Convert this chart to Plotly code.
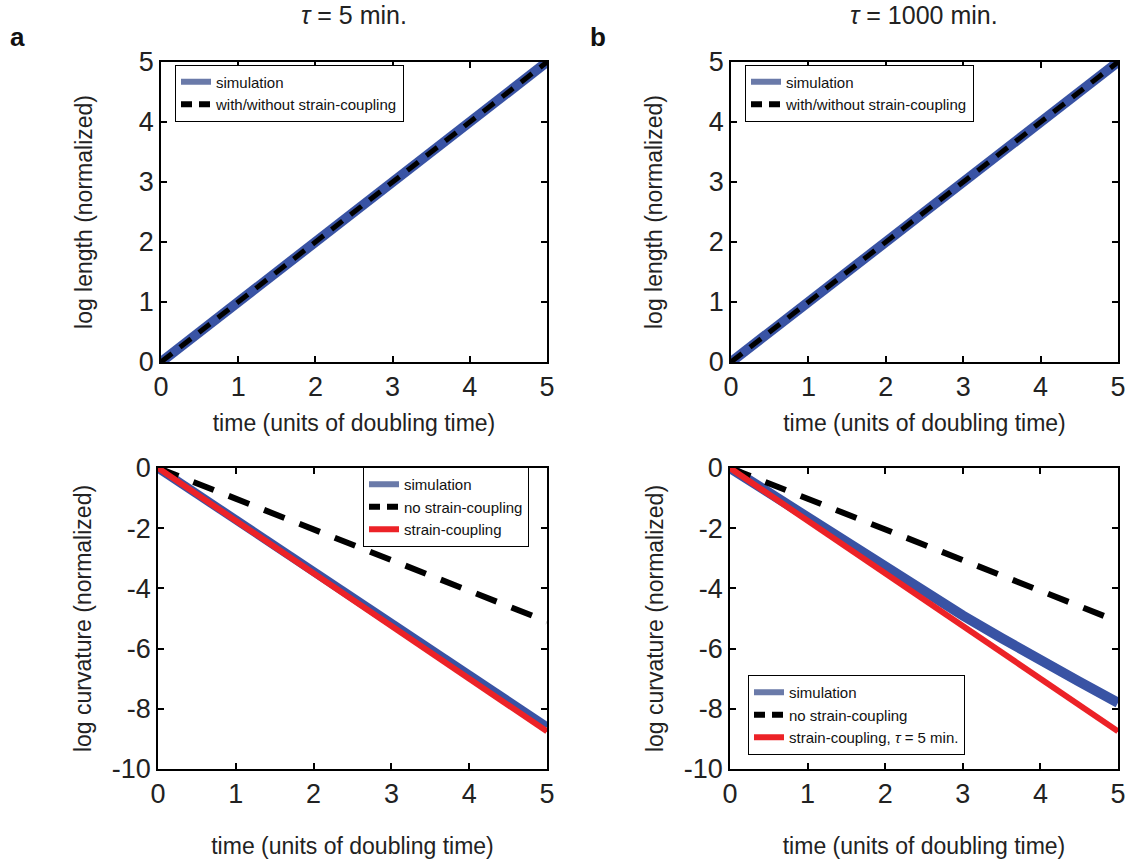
import plotly.graph_objects as go
from plotly.subplots import make_subplots

# ---------------- data ----------------
time = [0, 1, 2, 3, 4, 5]
time_fine = [0, 0.5, 1, 1.5, 2, 2.5, 3, 3.5, 4, 4.5, 5]

# top panels: log length
length_sim_a = [0, 1, 2, 3, 4, 5]
length_theory_a = [0, 1, 2, 3, 4, 5]
length_sim_b = [0, 1, 2, 3, 4, 5]
length_theory_b = [0, 1, 2, 3, 4, 5]

# bottom-left: log curvature, tau = 5 min
curv_sim_a = [0, -1.72, -3.44, -5.16, -6.88, -8.6]
curv_nocoupling_a = [0, -1.02, -2.04, -3.06, -4.08, -5.1]
curv_coupling_a = [0, -1.75, -3.5, -5.25, -7.0, -8.75]

# bottom-right: log curvature, tau = 1000 min
curv_sim_b = [0, -0.83, -1.63, -2.45, -3.3, -4.1, -4.9, -5.65, -6.4, -7.1, -7.8]
curv_nocoupling_b = [0, -1.02, -2.04, -3.06, -4.08, -5.1]
curv_coupling_b = [0, -1.75, -3.5, -5.25, -7.0, -8.75]

x_ticks = [0, 1, 2, 3, 4, 5]
y_ticks_top = [0, 1, 2, 3, 4, 5]
y_ticks_bottom = [0, -2, -4, -6, -8, -10]
y_ticklabels_bottom = ["0", "-2", "-4", "-6", "-8", "-10"]

panel_titles = ["<i>τ</i> = 5 min.", "<i>τ</i> = 1000 min."]
panel_letters = ["a", "b"]

# ---------------- style ----------------
BLUE = "#3953a4"
BLUE_LEG = "#6a7aa9"
RED = "#ec2227"
BLACK = "#000000"
FONT = "Liberation Sans, Arial, Helvetica, sans-serif"
W, H = 1132, 867

fig = make_subplots(rows=2, cols=2)

def add(x, y, row, col, color, width, dash=None):
    fig.add_trace(go.Scatter(x=x, y=y, mode="lines", showlegend=False,
                             line=dict(color=color, width=width, dash=dash),
                             hoverinfo="skip"), row=row, col=col)

def leg(name, color, width, legend, dash=None):
    fig.add_trace(go.Scatter(x=[None], y=[None], mode="lines", name=name,
                             line=dict(color=color, width=width, dash=dash),
                             legend=legend))

# top-left
add(time, length_sim_a, 1, 1, BLUE, 10)
add(time, length_theory_a, 1, 1, BLACK, 5, "14px,10px")
# top-right
add(time, length_sim_b, 1, 2, BLUE, 10)
add(time, length_theory_b, 1, 2, BLACK, 5, "14px,10px")
# bottom-left
add(time, curv_sim_a, 2, 1, BLUE, 9)
add(time, curv_nocoupling_a, 2, 1, BLACK, 6, "22px,16px")
add(time, curv_coupling_a, 2, 1, RED, 6)
# bottom-right
add(time_fine, curv_sim_b, 2, 2, BLUE, 10)
add(time, curv_nocoupling_b, 2, 2, BLACK, 6, "22px,16px")
add(time, curv_coupling_b, 2, 2, RED, 6)

# legend entries
LEG_DASH = "11px,7px"
leg("simulation", BLUE_LEG, 6, "legend")
leg("with/without strain-coupling", BLACK, 6, "legend", LEG_DASH)
leg("simulation", BLUE_LEG, 6, "legend2")
leg("with/without strain-coupling", BLACK, 6, "legend2", LEG_DASH)
leg("simulation", BLUE_LEG, 6, "legend3")
leg("no strain-coupling", BLACK, 6, "legend3", LEG_DASH)
leg("strain-coupling", RED, 6, "legend3")
leg("simulation", BLUE_LEG, 6, "legend4")
leg("no strain-coupling", BLACK, 6, "legend4", LEG_DASH)
leg("strain-coupling, <i>τ</i> = 5 min.", RED, 6, "legend4")

# domains (pixel -> paper)
def xd(a, b):
    return [a / W, b / W]

def yd(top, bottom):
    return [1 - bottom / H, 1 - top / H]

axis_common = dict(showline=True, linecolor="black", linewidth=1.5, mirror="ticks",
                   ticks="inside", ticklen=6, tickwidth=1.5, tickcolor="black",
                   showgrid=False, zeroline=False, automargin=False,
                   tickfont=dict(family=FONT, size=27, color="#222"),
                   title_font=dict(family=FONT, size=23, color="#222"))

fig.update_layout(
    xaxis=dict(domain=xd(161, 547), range=[0, 5], tickvals=x_ticks,
               title=dict(text="time (units of doubling time)", standoff=14), **axis_common),
    xaxis2=dict(domain=xd(731, 1118), range=[0, 5], tickvals=x_ticks,
                title=dict(text="time (units of doubling time)", standoff=14), **axis_common),
    xaxis3=dict(domain=xd(158, 547), range=[0, 5], tickvals=x_ticks,
                title=dict(text="time (units of doubling time)", standoff=30), **axis_common),
    xaxis4=dict(domain=xd(730, 1118), range=[0, 5], tickvals=x_ticks,
                title=dict(text="time (units of doubling time)", standoff=30), **axis_common),
    yaxis=dict(domain=yd(62, 362), range=[0, 5], tickvals=y_ticks_top,
               title=dict(text="log length (normalized)", standoff=40), **axis_common),
    yaxis2=dict(domain=yd(62, 362), range=[0, 5], tickvals=y_ticks_top,
                title=dict(text="log length (normalized)", standoff=40), **axis_common),
    yaxis3=dict(domain=yd(468, 769), range=[-10, 0], tickvals=y_ticks_bottom,
                ticktext=y_ticklabels_bottom,
                title=dict(text="log curvature (normalized)", standoff=14), **axis_common),
    yaxis4=dict(domain=yd(468, 769), range=[-10, 0], tickvals=y_ticks_bottom,
                ticktext=y_ticklabels_bottom,
                title=dict(text="log curvature (normalized)", standoff=14), **axis_common),
)

leg_common = dict(bordercolor="black", borderwidth=1, bgcolor="white",
                  font=dict(family=FONT, size=15, color="#111"),
                  xanchor="left", yanchor="middle", itemwidth=30, tracegroupgap=0)
fig.update_layout(
    legend=dict(x=175 / W, y=1 - 93 / H, **leg_common),
    legend2=dict(x=745 / W, y=1 - 93 / H, **leg_common),
    legend3=dict(x=363 / W, y=1 - 507 / H, **leg_common),
    legend4=dict(x=748 / W, y=1 - 715 / H, **leg_common),
)

annotations = []
for i, (cx, lx) in enumerate([(354, 17), (924, 598)]):
    annotations.append(dict(text=panel_titles[i], x=cx / W, y=1 - 15 / H, xref="paper", yref="paper",
                            xanchor="center", yanchor="middle", showarrow=False,
                            font=dict(family=FONT, size=25, color="#222")))
    annotations.append(dict(text="<b>" + panel_letters[i] + "</b>", x=lx / W, y=1 - 37 / H,
                            xref="paper", yref="paper", xanchor="center", yanchor="middle",
                            showarrow=False, font=dict(family=FONT, size=26, color="#111")))

fig.update_layout(width=W, height=H, margin=dict(l=0, r=0, t=0, b=0),
                  paper_bgcolor="white", plot_bgcolor="white",
                  annotations=annotations, font=dict(family=FONT))

fig.write_html("out.html")
